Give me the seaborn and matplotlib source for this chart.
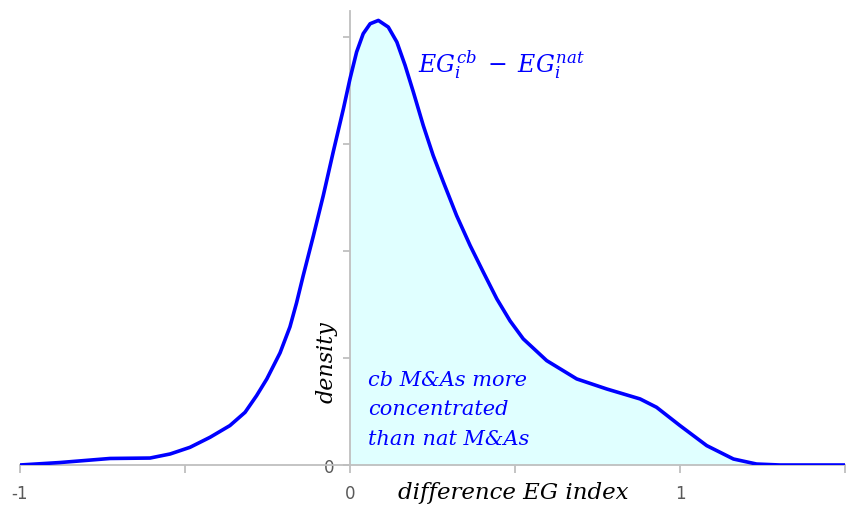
import numpy as np
import pandas as pd
import matplotlib
matplotlib.use("Agg")
import matplotlib.pyplot as plt
import seaborn as sns

# data
x_vals = [-1.000, -0.879, -0.727, -0.606, -0.545, -0.485, -0.424, -0.364, -0.318,
          -0.283, -0.252, -0.212, -0.182, -0.162, -0.142, -0.111, -0.081, -0.051,
          -0.020, 0.000, 0.020, 0.040, 0.061, 0.086, 0.116, 0.142, 0.167, 0.192,
          0.222, 0.252, 0.283, 0.323, 0.364, 0.404, 0.445, 0.485, 0.525, 0.596,
          0.687, 0.778, 0.879, 0.929, 1.000, 1.081, 1.162, 1.232, 1.303, 1.500]
density = [0.000, 0.023, 0.061, 0.065, 0.103, 0.165, 0.259, 0.368, 0.492,
           0.648, 0.804, 1.047, 1.290, 1.514, 1.766, 2.140, 2.516, 2.922,
           3.327, 3.607, 3.857, 4.028, 4.121, 4.152, 4.090, 3.950, 3.732, 3.483,
           3.171, 2.891, 2.642, 2.330, 2.050, 1.801, 1.551, 1.346, 1.178, 0.975,
           0.804, 0.710, 0.617, 0.539, 0.368, 0.181, 0.056, 0.009, 0.000, 0.000]
x_ticks = [-1, -0.5, 0, 0.5, 1, 1.5]
x_tick_labels = ["-1", "", "0", "", "1", ""]
y_ticks = [0, 1, 2, 3, 4]
y_tick_labels = ["0", "", "", "", ""]

df = pd.DataFrame({"x": x_vals, "density": density})

sns.set_theme(style="white")
plt.rcParams["mathtext.fontset"] = "dejavuserif"

fig = plt.figure(figsize=(8.47, 5.06), dpi=100)
ax = fig.add_axes([20 / 847, 40 / 506, 825 / 847, 454 / 506])

pos = df[df["x"] >= 0]
ax.fill_between(pos["x"], 0, pos["density"], color="#e0ffff", lw=0, zorder=1)
sns.lineplot(data=df, x="x", y="density", ax=ax, color="#0000ff", lw=2.6,
             zorder=3, solid_joinstyle="round", solid_capstyle="round")

ax.set_xlim(-1, 1.5)
ax.set_ylim(0, 4.24)

gray = "#bfbfbf"
for s in ["top", "right"]:
    ax.spines[s].set_visible(False)
ax.spines["left"].set_position(("data", 0))
ax.spines["left"].set_color(gray)
ax.spines["bottom"].set_color(gray)
ax.spines["left"].set_linewidth(1.3)
ax.spines["bottom"].set_linewidth(1.3)
ax.spines["left"].set_zorder(2)

ax.set_xticks(x_ticks)
ax.set_xticklabels(x_tick_labels)
ax.set_yticks(y_ticks)
ax.set_yticklabels(y_tick_labels)
ax.tick_params(axis="x", direction="out", length=6, width=1.3, color=gray,
               labelcolor="#595959", labelsize=12, pad=8, bottom=True)
ax.tick_params(axis="y", direction="out", length=5, width=1.3, color=gray,
               labelcolor="#595959", labelsize=12, pad=6, left=True)
ax.set_xlabel("")
ax.set_ylabel("")

ax.text(0.145, -0.25, "difference EG index", ha="left", va="center",
        fontsize=16.5, fontstyle="italic", family="DejaVu Serif", color="black")
ax.text(-0.07, 0.97, "density", ha="center", va="center", rotation=90,
        fontsize=16, fontstyle="italic", family="DejaVu Serif", color="black")
ax.text(0.206, 3.68, r"$EG_i^{cb}\;-\;EG_i^{nat}$", ha="left", va="baseline",
        fontsize=17, color="#0000ff")
ax.text(0.055, 0.523, "cb M&As more\nconcentrated\nthan nat M&As", ha="left",
        va="center", fontsize=15, fontstyle="italic", family="DejaVu Serif",
        color="#0000ff", linespacing=1.7)

fig.savefig("out.png", dpi=100)
